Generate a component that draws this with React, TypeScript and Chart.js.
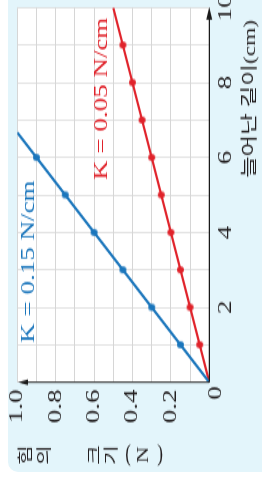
import { useEffect, useRef } from 'react';
import { Chart, registerables } from 'chart.js';

Chart.register(...registerables);

// ---- data ----
const blueCm = [1, 2, 3, 4, 5, 6];
const blueN = [0.15, 0.3, 0.45, 0.6, 0.75, 0.9];
const blueLineCm = [0, 6.667];
const blueLineN = [0, 1.0];
const redCm = [1, 2, 3, 4, 5, 6, 7, 8, 9];
const redN = [0.05, 0.1, 0.15, 0.2, 0.25, 0.3, 0.35, 0.4, 0.45];
const redLineCm = [0, 10];
const redLineN = [0, 0.5];
const cmTickLabels = [2, 4, 6, 8, 10];
const nTickLabels = [0.2, 0.4, 0.6, 0.8, 1.0];
const blueLabel = 'K = 0.15 N/cm';
const redLabel = 'K = 0.05 N/cm';
const blueLabelAt = [1.05, 0.913];
const redLabelAt = [5.4, 0.533];
const xTitle = '늘어난 길이(cm)';
const yTitleChars = ['힘', '의', ' ', '크', '기', '(', 'N', ')'];

const S = 1.4226;
const W = 336;
const H = 262;
const BLUE = '#1b76bc';
const RED = '#e0232b';
const SERIF = "'Liberation Serif', 'Noto Sans CJK KR', serif";
const KR = "'Noto Sans CJK KR', 'Liberation Serif', sans-serif";

function makeDot(color: string, r: number) {
  const c = document.createElement('canvas');
  const w = Math.ceil((2 * r) / S) + 2;
  const h = Math.ceil(2 * r) + 2;
  c.width = w;
  c.height = h;
  const g = c.getContext('2d')!;
  g.fillStyle = color;
  g.beginPath();
  g.ellipse(w / 2, h / 2, r / S, r, 0, 0, Math.PI * 2);
  g.fill();
  return c;
}

const decor = {
  id: 'decor',
  beforeDraw(chart: any) {
    const { ctx, chartArea: a } = chart;
    ctx.save();
    ctx.fillStyle = '#ffffff';
    ctx.fillRect(a.left, a.top, a.right - a.left, a.bottom - a.top);
    ctx.restore();
  },
  afterDraw(chart: any) {
    const { ctx } = chart;
    const x = chart.scales.x;
    const y = chart.scales.y;
    const x0 = x.getPixelForValue(0);
    const y0 = y.getPixelForValue(0);
    ctx.save();
    ctx.strokeStyle = '#1a1a1a';
    ctx.fillStyle = '#1a1a1a';
    // x axis (cm) with arrow
    const xt = x.right + 0.5;
    ctx.lineWidth = 1.2;
    ctx.beginPath();
    ctx.moveTo(x0, y0);
    ctx.lineTo(xt - 4, y0);
    ctx.stroke();
    ctx.beginPath();
    ctx.moveTo(xt, y0);
    ctx.lineTo(xt - 9, y0 - 3);
    ctx.lineTo(xt - 9, y0 + 3);
    ctx.closePath();
    ctx.fill();
    // y axis (N) with arrow
    const yt = y.top + 0.7;
    ctx.lineWidth = 0.9;
    ctx.beginPath();
    ctx.moveTo(x0, y0);
    ctx.lineTo(x0, yt + 4);
    ctx.stroke();
    ctx.beginPath();
    ctx.moveTo(x0, yt);
    ctx.lineTo(x0 - 2, yt + 10);
    ctx.lineTo(x0 + 2, yt + 10);
    ctx.closePath();
    ctx.fill();

    // origin label
    ctx.font = `19px ${SERIF}`;
    ctx.textAlign = 'center';
    ctx.textBaseline = 'middle';
    ctx.fillStyle = '#231f20';
    ctx.fillText('0', x0 - 7.5, y0 + 7);

    // K labels
    ctx.textAlign = 'left';
    ctx.textBaseline = 'alphabetic';
    ctx.fillStyle = BLUE;
    ctx.fillText(blueLabel, x.getPixelForValue(blueLabelAt[0]), y.getPixelForValue(blueLabelAt[1]));
    ctx.fillStyle = RED;
    ctx.fillText(redLabel, x.getPixelForValue(redLabelAt[0]), y.getPixelForValue(redLabelAt[1]));

    // x title
    ctx.fillStyle = '#231f20';
    ctx.font = `16.5px ${SERIF}`;
    ctx.textAlign = 'right';
    ctx.textBaseline = 'middle';
    ctx.fillText(xTitle, x.right - 8.5, y0 + 41);

    // y title (vertical, stacked)
    const cu = 16.2;
    const centers = [24, 43, 0, 93, 110, 128, 144, 160];
    yTitleChars.forEach((ch, i) => {
      if (ch === ' ') return;
      const v = centers[i];
      ctx.save();
      ctx.translate(cu, v);
      if (ch === '(' || ch === ')') {
        ctx.rotate(Math.PI / 2);
        ctx.font = `17px ${SERIF}`;
      } else if (ch === 'N') {
        ctx.font = `16px ${SERIF}`;
      } else {
        ctx.font = `15px ${KR}`;
      }
      ctx.textAlign = 'center';
      ctx.textBaseline = 'middle';
      ctx.fillText(ch, 0, 0);
      ctx.restore();
    });
    ctx.restore();
  },
};

export default function App() {
  const ref = useRef<HTMLCanvasElement>(null);
  useEffect(() => {
    if (!ref.current) return;
    const blueDot = makeDot(BLUE, 3.4);
    const redDot = makeDot(RED, 3.4);
    const chart = new Chart(ref.current, {
      type: 'scatter',
      data: {
        datasets: [
          {
            data: blueLineCm.map((c, i) => ({ x: c, y: blueLineN[i] })),
            showLine: true,
            borderColor: BLUE,
            borderWidth: 2.2,
            pointRadius: 0,
          },
          {
            data: redLineCm.map((c, i) => ({ x: c, y: redLineN[i] })),
            showLine: true,
            borderColor: RED,
            borderWidth: 2.2,
            pointRadius: 0,
          },
          {
            data: blueCm.map((c, i) => ({ x: c, y: blueN[i] })),
            pointStyle: blueDot as any,
            pointRadius: 3.4,
          },
          {
            data: redCm.map((c, i) => ({ x: c, y: redN[i] })),
            pointStyle: redDot as any,
            pointRadius: 3.4,
          },
        ],
      },
      options: {
        responsive: false,
        animation: false,
        devicePixelRatio: 1,
        layout: { padding: { left: 0, right: 5.4, top: 17.3, bottom: 0 } },
        plugins: { legend: { display: false }, tooltip: { enabled: false } },
        scales: {
          x: {
            type: 'linear',
            min: 0,
            max: 10,
            border: { display: false },
            grid: { color: '#d6d6d6', lineWidth: 0.72, drawTicks: false },
            ticks: {
              stepSize: 1,
              autoSkip: false,
              maxRotation: 0,
              padding: 5,
              color: '#231f20',
              font: { family: SERIF, size: 19 },
              callback: (v: any) => (cmTickLabels.includes(Number(v)) ? String(v) : ''),
            },
            afterFit: (s: any) => {
              s.height = 52.7;
              s.paddingLeft = 0;
              s.paddingRight = 0;
            },
          },
          y: {
            type: 'linear',
            min: 0,
            max: 1,
            border: { display: false },
            grid: { color: '#d6d6d6', lineWidth: 1, drawTicks: false },
            ticks: {
              stepSize: 0.1,
              autoSkip: false,
              padding: 5,
              color: '#231f20',
              font: { family: SERIF, size: 19 },
              callback: (v: any) => {
                const r = Math.round(Number(v) * 10) / 10;
                return nTickLabels.some((t) => Math.abs(t - r) < 1e-6) ? r.toFixed(1) : '';
              },
            },
            afterFit: (s: any) => {
              s.width = 67.3;
              s.paddingTop = 0;
              s.paddingBottom = 0;
            },
          },
        },
      },
      plugins: [decor],
    });
    return () => chart.destroy();
  }, []);

  return (
    <div style={{ position: 'fixed', left: 0, top: 0, width: 262, height: 478, overflow: 'hidden', background: '#ffffff' }}>
      <div
        style={{
          position: 'absolute',
          left: 8,
          top: -20,
          width: 280,
          height: 492,
          borderRadius: 10,
          background: '#e3f5fb',
        }}
      />
      <div
        style={{
          position: 'absolute',
          left: 0,
          top: 0,
          width: W,
          height: H,
          transformOrigin: '0 0',
          transform: `translate(0px, 478px) rotate(-90deg) scale(${S}, 1)`,
        }}
      >
        <canvas ref={ref} width={W} height={H} style={{ display: 'block', width: W, height: H }} />
      </div>
    </div>
  );
}
